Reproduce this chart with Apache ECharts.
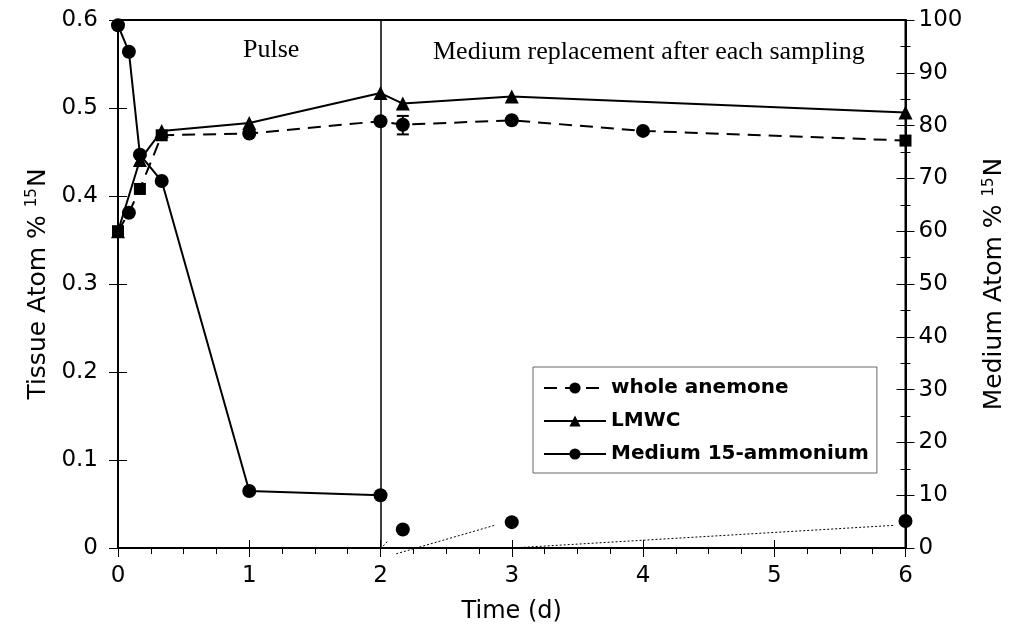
<!DOCTYPE html>
<html>
<head>
<meta charset="utf-8">
<script src="https://cdn.jsdelivr.net/npm/echarts@6/dist/echarts.min.js"></script>
<style>html,body{margin:0;padding:0;background:#fff;}#c{width:1015px;height:633px;}</style>
</head>
<body>
<div id="c"></div>
<script>
// ---- data ----
const anemoneDays   = [0, 0.083, 0.167, 0.333, 1, 2, 2.17, 3, 4, 6];
const anemoneValues = [0.360, 0.381, 0.408, 0.469, 0.471, 0.485, 0.481, 0.486, 0.474, 0.463];
const lmwcDays      = [0, 0.167, 0.333, 1, 2, 2.17, 3, 6];
const lmwcValues    = [0.360, 0.441, 0.474, 0.483, 0.517, 0.505, 0.513, 0.495];
const mediumDays    = [0, 0.083, 0.167, 0.333, 1, 2];
const mediumValues  = [99, 94, 74.5, 69.5, 10.8, 10];
const mediumLateDays   = [2.17, 3, 6];
const mediumLateValues = [3.5, 4.9, 5.1];
const errDay = [2.17];
const errLow = [0.470];
const errHigh = [0.491];
// stray dotted traces in the original figure (right-axis units)
const dottedA = [[2.0, -0.2], [2.05, 1.2]];
const dottedB = [[2.12, -1.1], [2.87, 4.3]];
const dottedC = [[3.0, 0.0], [5.92, 4.3]];
const xTicks = [0, 1, 2, 3, 4, 5, 6];
const leftTicks = [0, 0.1, 0.2, 0.3, 0.4, 0.5, 0.6];
const rightTicks = [0, 10, 20, 30, 40, 50, 60, 70, 80, 90, 100];
const legendNames = ['whole anemone', 'LMWC', 'Medium 15-ammonium'];

// marker style choices (squares where the original shows square markers)
const squareIdx = [0, 2, 3, 9];

const zip = (a, b) => a.map((v, i) => [v, b[i]]);
const FONT = 'DejaVu Sans';
const labelStyle = { color: '#000', fontFamily: FONT, fontSize: 23 };

const chart = echarts.init(document.getElementById('c'), null, { renderer: 'canvas' });

const baseX = {
  type: 'value', min: xTicks[0], max: xTicks[xTicks.length - 1], interval: 1,
  position: 'bottom', splitLine: { show: false }
};
const baseL = {
  type: 'value', min: leftTicks[0], max: leftTicks[leftTicks.length - 1], interval: 0.1,
  position: 'left', splitLine: { show: false }
};
const baseR = {
  type: 'value', min: rightTicks[0], max: rightTicks[rightTicks.length - 1], interval: 10,
  position: 'right', splitLine: { show: false }
};
const nameRich = { sup: { fontFamily: FONT, fontSize: 15, verticalAlign: 'top', padding: [0, 1, 11, 0] } };
const tickLine = { color: '#000', width: 1 };
const hiddenLine = { show: false, onZero: false };

const option = {
  animation: false,
  backgroundColor: '#fff',
  grid: { left: 118, right: 108, top: 20, bottom: 85, show: true, borderColor: '#000', borderWidth: 2 },
  xAxis: [
    Object.assign({}, baseX, {
      name: 'Time (d)', nameLocation: 'middle', nameGap: 52,
      nameTextStyle: { color: '#000', fontFamily: FONT, fontSize: 24 },
      axisLine: { onZero: false, lineStyle: { color: '#000', width: 2 } },
      axisTick: { length: 9, lineStyle: tickLine },
      minorTick: { show: true, splitNumber: 4, length: 6, lineStyle: tickLine },
      axisLabel: Object.assign({ margin: 17 }, labelStyle)
    }),
    Object.assign({}, baseX, {
      axisLine: hiddenLine,
      axisTick: { inside: true, length: 8, lineStyle: tickLine },
      axisLabel: { show: false }
    })
  ],
  yAxis: [
    Object.assign({}, baseL, {
      name: 'Tissue Atom % {sup|15}N', nameLocation: 'middle', nameGap: 66, nameRotate: 90,
      nameTextStyle: { color: '#000', fontFamily: FONT, fontSize: 25, rich: nameRich },
      axisLine: { onZero: false, lineStyle: { color: '#000', width: 2 } },
      axisTick: { length: 9, lineStyle: tickLine },
      axisLabel: Object.assign({ margin: 20 }, labelStyle)
    }),
    Object.assign({}, baseL, {
      axisLine: hiddenLine,
      axisTick: { inside: true, length: 9, lineStyle: tickLine },
      axisLabel: { show: false }
    }),
    Object.assign({}, baseR, {
      name: 'Medium Atom % {sup|15}N', nameLocation: 'middle', nameGap: 76, nameRotate: 90,
      nameTextStyle: { color: '#000', fontFamily: FONT, fontSize: 25, rich: nameRich },
      axisLine: { onZero: false, lineStyle: { color: '#000', width: 2 } },
      axisTick: { length: 9, lineStyle: tickLine },
      minorTick: { show: true, splitNumber: 2, length: 5, lineStyle: tickLine },
      axisLabel: Object.assign({ margin: 13 }, labelStyle)
    }),
    Object.assign({}, baseR, {
      axisLine: hiddenLine,
      axisTick: { inside: true, length: 9, lineStyle: tickLine },
      axisLabel: { show: false }
    }),
    Object.assign({}, baseR, {
      interval: 5,
      axisLine: hiddenLine,
      axisTick: { inside: true, length: 5, lineStyle: tickLine },
      axisLabel: { show: false }
    })
  ],
  legend: {
    data: legendNames,
    orient: 'vertical',
    left: 533, top: 367,
    padding: [11, 8, 9, 10],
    itemGap: 13,
    itemWidth: 62, itemHeight: 14,
    backgroundColor: '#fff',
    borderColor: '#666', borderWidth: 1, borderRadius: 0,
    textStyle: { color: '#000', fontFamily: FONT, fontSize: 20, fontWeight: 'bold' },
    selectedMode: false
  },
  graphic: [
    { type: 'text', left: 243, top: 37, style: { text: 'Pulse', fill: '#000', font: '26px "Liberation Serif"' } },
    { type: 'text', left: 433, top: 39, style: { text: 'Medium replacement after each sampling', fill: '#000', font: '26px "Liberation Serif"' } }
  ],
  series: [
    {
      name: 'whole anemone', type: 'line', xAxisIndex: 0, yAxisIndex: 0,
      data: zip(anemoneDays, anemoneValues).map((p, i) => ({ value: p, symbol: squareIdx.includes(i) ? 'rect' : 'circle', symbolSize: squareIdx.includes(i) ? 12 : 14 })),
      symbol: 'circle', symbolSize: 14,
      itemStyle: { color: '#000' },
      lineStyle: { color: '#000', width: 2, type: [13, 8] },
      z: 3
    },
    {
      name: 'LMWC', type: 'line', xAxisIndex: 0, yAxisIndex: 0,
      data: zip(lmwcDays, lmwcValues),
      symbol: 'triangle', symbolSize: 14,
      itemStyle: { color: '#000' },
      lineStyle: { color: '#000', width: 2, type: 'solid' },
      z: 4
    },
    {
      name: 'Medium 15-ammonium', type: 'line', xAxisIndex: 0, yAxisIndex: 2,
      data: zip(mediumDays, mediumValues),
      symbol: 'circle', symbolSize: 14,
      itemStyle: { color: '#000' },
      lineStyle: { color: '#000', width: 2, type: 'solid' },
      z: 5,
      markLine: {
        silent: true, symbol: ['none', 'none'], label: { show: false },
        lineStyle: { color: '#000', width: 1.5, type: 'solid' },
        data: [{ xAxis: 2 }]
      }
    },
    {
      name: 'Medium late', type: 'scatter', xAxisIndex: 0, yAxisIndex: 2,
      data: zip(mediumLateDays, mediumLateValues),
      symbol: 'circle', symbolSize: 14,
      itemStyle: { color: '#000', opacity: 1 }, z: 5
    },
    {
      name: 'error', type: 'custom', xAxisIndex: 0, yAxisIndex: 0,
      data: errDay.map((d, i) => [d, errLow[i], errHigh[i]]),
      renderItem: function (params, api) {
        const lo = api.coord([api.value(0), api.value(1)]);
        const hi = api.coord([api.value(0), api.value(2)]);
        const w = 6;
        const st = { stroke: '#000', lineWidth: 2 };
        return { type: 'group', children: [
          { type: 'line', shape: { x1: lo[0], y1: lo[1], x2: hi[0], y2: hi[1] }, style: st },
          { type: 'line', shape: { x1: lo[0] - w, y1: lo[1], x2: lo[0] + w, y2: lo[1] }, style: st },
          { type: 'line', shape: { x1: hi[0] - w, y1: hi[1], x2: hi[0] + w, y2: hi[1] }, style: st }
        ] };
      },
      z: 2
    }
  ].concat([dottedA, dottedB, dottedC].map((seg, k) => ({
    name: 'dotted' + k, type: 'line', xAxisIndex: 0, yAxisIndex: 2,
    data: seg, symbol: 'none', clip: false, silent: true,
    lineStyle: { color: '#000', width: 1, type: [2, 2] }, z: 1
  })))
};

chart.setOption(option);
</script>
</body>
</html>
